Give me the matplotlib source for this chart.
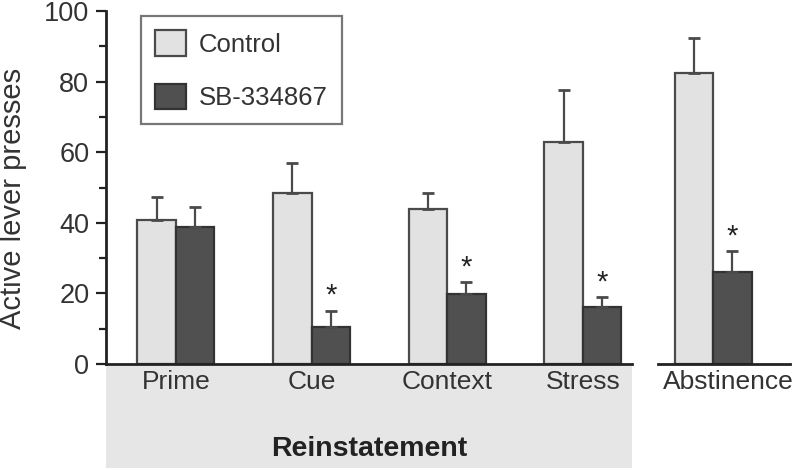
"""Active lever presses: control vs SB-334867 across reinstatement and abstinence."""

import matplotlib.pyplot as plt
import matplotlib.transforms as mtransforms
import numpy as np
from matplotlib.patches import Rectangle

plt.rcParams["font.family"] = ["Liberation Sans", "DejaVu Sans"]

reinstatement = ["Prime", "Cue", "Context", "Stress"]
control = [40.8, 48.4, 43.9, 62.8]
control_err = [6.5, 8.5, 4.6, 14.8]
sb = [38.8, 10.6, 19.8, 16.2]
sb_err = [5.7, 4.5, 3.3, 2.8]
sb_sig = [False, True, True, True]

abst_label = "Abstinence"
abst_control, abst_control_err = 82.5, 9.8
abst_sb, abst_sb_err = 26.2, 5.8

CTRL_C = "#e2e2e2"
SB_C = "#505050"
EDGE = "#4a4a4a"
TXT = "#333333"
W = 0.284

fig = plt.figure(figsize=(8, 4.7), dpi=100)
ax1 = fig.add_axes([0.1325, 0.2255, 0.6575, 0.751])
ax2 = fig.add_axes([0.8225, 0.2255, 0.165, 0.751])


def draw(ax, x, c, ce, s, se, sig):
    x = np.asarray(x, dtype=float)
    ekw = dict(ecolor=EDGE, elinewidth=1.6, capsize=4, capthick=2)
    ax.bar(x - W / 2, c, W, color=CTRL_C, edgecolor=EDGE, linewidth=1.6,
           yerr=[np.zeros_like(x), ce], error_kw=ekw, zorder=2)
    ax.bar(x + W / 2, s, W, color=SB_C, edgecolor="#333333", linewidth=1.6,
           yerr=[np.zeros_like(x), se], error_kw=ekw, zorder=2)
    for xi, v, e, flag in zip(x, s, se, sig):
        if flag:
            ax.text(xi + W / 2, v + e + 4.2, "*", ha="center", va="center",
                    fontsize=21, color="#222222")


x1 = np.arange(len(reinstatement))
draw(ax1, x1, control, control_err, sb, sb_err, sb_sig)
draw(ax2, [0], [abst_control], [abst_control_err], [abst_sb], [abst_sb_err], [True])

for ax in (ax1, ax2):
    ax.set_ylim(0, 100)
    for side in ("top", "right"):
        ax.spines[side].set_visible(False)
    ax.spines["bottom"].set_linewidth(2)
    ax.spines["bottom"].set_color("#222222")
    ax.tick_params(axis="x", length=0, labelsize=19, labelcolor=TXT, pad=4)

ax1.set_xlim(-0.516, 3.363)
ax1.set_xticks(x1)
ax1.set_xticklabels(reinstatement)
ax1.spines["left"].set_linewidth(2)
ax1.spines["left"].set_color("#222222")
ax1.set_yticks(np.arange(0, 101, 20))
ax1.set_yticks(np.arange(10, 100, 20), minor=True)
ax1.tick_params(axis="y", which="major", length=7, width=1.6, labelsize=19.5,
                labelcolor=TXT, color="#222222", pad=5)
ax1.tick_params(axis="y", which="minor", length=5, width=1.6, color="#222222")
fig.text(0.016, 0.578, "Active lever presses", rotation=90, ha="center",
         va="center", fontsize=21, color=TXT)

ax2.set_xlim(-0.406, 0.567)
ax2.set_xticks([0])
ax2.set_xticklabels([abst_label])
ax2.spines["left"].set_visible(False)
ax2.set_yticks([])
# the Abstinence label sits a bit right of its bars in the original
shift = mtransforms.ScaledTranslation(0.15, 0, fig.dpi_scale_trans)
for lab in ax2.get_xticklabels():
    lab.set_transform(lab.get_transform() + shift)

band = Rectangle((0, -0.295), 1, 0.289, transform=ax1.transAxes,
                 facecolor="#e6e6e6", edgecolor="none", clip_on=False, zorder=0)
ax1.add_patch(band)
ax1.text(0.5, -0.24, "Reinstatement", transform=ax1.transAxes, ha="center",
         va="center", fontsize=20.5, fontweight="bold", color="#222222")

handles = [Rectangle((0, 0), 1, 1, facecolor=CTRL_C, edgecolor=EDGE, linewidth=1.6),
           Rectangle((0, 0), 1, 1, facecolor=SB_C, edgecolor="#333333", linewidth=1.6)]
leg = fig.legend(handles, ["Control", "SB-334867"], loc="upper left",
                 bbox_to_anchor=(0.176, 0.966), borderaxespad=0, fontsize=18.5,
                 frameon=True, fancybox=False, edgecolor="#555555",
                 handlelength=1.2, handleheight=1.15, labelspacing=1.05,
                 borderpad=0.55, handletextpad=0.5)
leg.get_frame().set_linewidth(1.6)
for t in leg.get_texts():
    t.set_color(TXT)

fig.savefig("out.png", dpi=100)
